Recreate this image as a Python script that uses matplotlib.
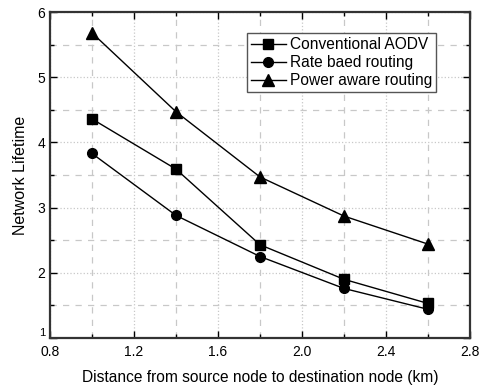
import matplotlib
matplotlib.use("Agg")
import matplotlib.pyplot as plt
from matplotlib.ticker import MultipleLocator

plt.rcParams['font.family'] = ['Liberation Sans', 'DejaVu Sans']

distance = [1.0, 1.4, 1.8, 2.2, 2.6]
aodv = [4.36, 3.59, 2.43, 1.90, 1.53]
rate = [3.83, 2.88, 2.25, 1.76, 1.44]
power = [5.68, 4.47, 3.47, 2.87, 2.44]
labels = ["Conventional AODV", "Rate baed routing", "Power aware routing"]
xticks = [0.8, 1.2, 1.6, 2.0, 2.4, 2.8]
yticks = [1, 2, 3, 4, 5, 6]

fig = plt.figure(figsize=(4.81, 3.87), dpi=100)
ax = fig.add_axes([50/481, 1-338/387, 420/481, 326/387])

ax.plot(distance, aodv, '-s', color='black', lw=1.0, ms=7, label=labels[0])
ax.plot(distance, rate, '-o', color='black', lw=1.0, ms=7, label=labels[1])
ax.plot(distance, power, '-^', color='black', lw=1.0, ms=8, label=labels[2])

ax.set_xlim(0.8, 2.8)
ax.set_ylim(1, 6)
ax.set_xticks(xticks)
ax.set_xticklabels([f"{v:.1f}" for v in xticks])
ax.xaxis.set_minor_locator(MultipleLocator(0.2))
ax.set_yticks(yticks)
ax.set_yticklabels([str(v) for v in yticks])
ax.yaxis.set_minor_locator(MultipleLocator(0.5))

ax.grid(which='major', color='#c8c8c8', linestyle=':', lw=0.9)
ax.grid(which='minor', color='#c8c8c8', linestyle=(0, (5, 5)), lw=0.9)
ax.tick_params(which='both', direction='in', top=True, right=True, labelsize=10)
ax.tick_params(axis='x', which='major', pad=5)
ax.tick_params(which='major', length=5, width=1)
ax.tick_params(which='minor', length=3, width=1)
ylabs = ax.get_yticklabels()
ylabs[0].set_fontsize(8)
ylabs[0].set_verticalalignment('bottom')
for s in ax.spines.values():
    s.set_linewidth(1.6)
    s.set_color('#333333')

ax.set_xlabel("Distance from source node to destination node (km)", fontsize=11.2, labelpad=8)
ax.set_ylabel("Network Lifetime", fontsize=11.5, labelpad=7)

leg = ax.legend(loc='upper right', bbox_to_anchor=(0.92, 0.935), fontsize=11.2,
                frameon=True, fancybox=False, edgecolor='#555555', framealpha=1,
                handlelength=2.2, handletextpad=0.3, borderpad=0.25, labelspacing=0.2,
                borderaxespad=0)
leg.get_frame().set_linewidth(1.0)

fig.savefig("out.png", dpi=100)
